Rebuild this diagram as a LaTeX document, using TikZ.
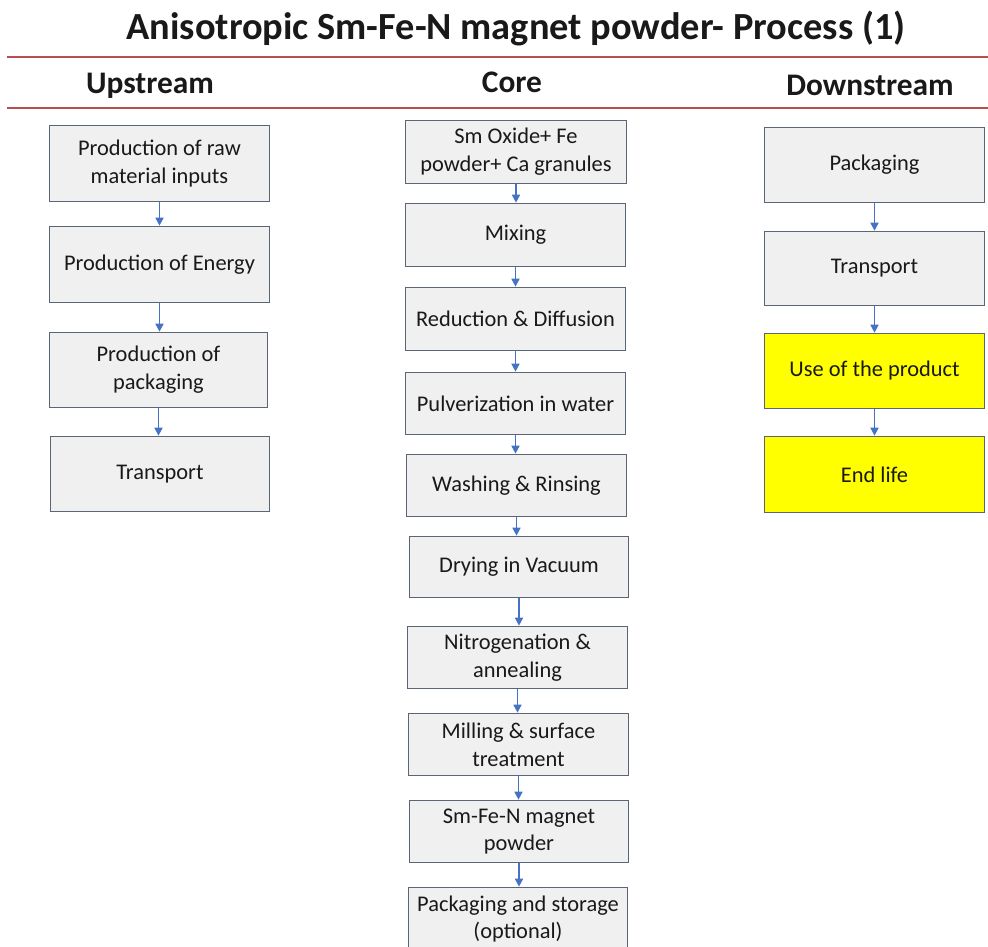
\documentclass[tikz,border=0pt]{standalone}
\usepackage{fontspec}
\setmainfont{Carlito}
\usetikzlibrary{arrows.meta}
\definecolor{boxfill}{HTML}{F0F0F0}
\definecolor{boxline}{HTML}{5A6675}
\definecolor{flowblue}{HTML}{4472C4}
\definecolor{rulered}{HTML}{B5514F}
\definecolor{hilite}{HTML}{FFFF00}
\tikzset{
  box/.style={draw=boxline, fill=boxfill, line width=0.9bp, align=center,
    font=\fontsize{22.5}{28}\selectfont, inner sep=0pt, text=black!90},
  hot/.style={box, fill=hilite},
  flow/.style={draw=flowblue, line width=1.6bp, -{Triangle[width=8bp,length=8bp]}},
  heading/.style={font=\bfseries\fontsize{31.5}{36}\selectfont, text=black!90},
  sep/.style={draw=rulered, line width=1.1bp}
}
\begin{document}
\begin{tikzpicture}[x=1bp, y=-1bp]
\useasboundingbox (0,0) rectangle (988,947);

% title and column headings
\node (title) [font=\bfseries\fontsize{38.5}{44}\selectfont, text=black!90] at (516,29) {Anisotropic Sm-Fe-N magnet powder- Process (1)};
\coordinate (r1a) at (7,57); \coordinate (r1b) at (988,57);
\coordinate (r2a) at (7,108); \coordinate (r2b) at (988,108);
\draw[sep] (r1a) -- (r1b);
\draw[sep] (r2a) -- (r2b);
\node (hup) [heading] at (150,86) {Upstream};
\node (hcore) [heading] at (512,82) {Core};
\node (hdown) [heading] at (870,85) {Downstream};

% upstream column
\node (u1) [box, minimum width=221, minimum height=77] at (159.5,163.5) {Production of raw\\material inputs};
\node (u2) [box, minimum width=221, minimum height=77] at (159.5,264.5) {Production of Energy};
\node (u3) [box, minimum width=219, minimum height=76] at (158.5,370) {Production of\\packaging};
\node (u4) [box, minimum width=220, minimum height=76] at (160,474) {Transport};

% core column
\node (c1) [box, minimum width=222, minimum height=64] at (516,152) {Sm Oxide+ Fe\\powder+ Ca granules};
\node (c2) [box, minimum width=221, minimum height=64] at (515.5,235) {Mixing};
\node (c3) [box, minimum width=221, minimum height=64] at (515.5,319) {Reduction \& Diffusion};
\node (c4) [box, minimum width=221, minimum height=63] at (515.5,403.5) {Pulverization in water};
\node (c5) [box, minimum width=221, minimum height=63] at (516.5,485.5) {Washing \& Rinsing};
\node (c6) [box, minimum width=220, minimum height=62] at (519,567) {Drying in Vacuum};
\node (c7) [box, minimum width=221, minimum height=63] at (517.5,657.5) {Nitrogenation \&\\annealing};
\node (c8) [box, minimum width=221, minimum height=63] at (518.5,744.5) {Milling \& surface\\treatment};
\node (c9) [box, minimum width=220, minimum height=63] at (519,831.5) {Sm-Fe-N magnet\\powder};
\node (c10) [box, minimum width=220, minimum height=64] at (518,919) {Packaging and storage\\(optional)};

% downstream column
\node (d1) [box, minimum width=221, minimum height=76] at (874.5,165) {Packaging};
\node (d2) [box, minimum width=221, minimum height=75] at (874.5,268.5) {Transport};
\node (d3) [hot, minimum width=221, minimum height=76] at (874.5,371) {Use of the product};
\node (d4) [hot, minimum width=221, minimum height=77] at (874.5,474.5) {End life};

% connectors
\foreach \a/\b in {u1/u2,u2/u3,u3/u4,
                   c1/c2,c2/c3,c3/c4,c4/c5,c5/c6,c6/c7,c7/c8,c8/c9,c9/c10,
                   d1/d2,d2/d3,d3/d4}
  \draw[flow] (\a.south) -- (\a.south |- \b.north);
\end{tikzpicture}
\end{document}
